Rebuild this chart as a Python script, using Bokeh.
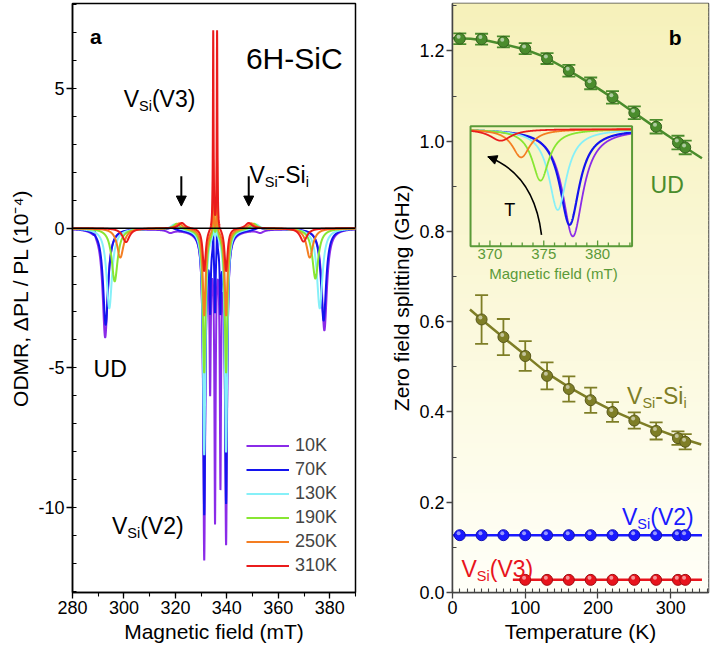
import numpy as np
from bokeh.plotting import figure
from bokeh.layouts import row
from bokeh.models import (Range1d, FixedTicker, PrintfTickFormatter, Span, Arrow, NormalHead,
                          Legend, LegendItem, Whisker, ColumnDataSource, TeeHead)
from bokeh.transform import dodge
from bokeh.embed import file_html
from bokeh.resources import INLINE
from bokeh.core.properties import value

FONT = "Liberation Sans"

# ---------------- Panel a: ODMR spectra (line parameters) ----------------
temps = ["10K", "70K", "130K", "190K", "250K", "310K"]
spec_colors = ["#8a2be8", "#1414ee", "#86f0f8", "#88e632", "#f47e22", "#ea1c1c"]

ud_low_pos = [292.7, 292.9, 294.3, 296.4, 298.6, 300.8]
ud_low_amp = [-3.9, -3.45, -2.86, -1.9, -1.05, -0.5]
ud_high_pos = [377.9, 377.6, 376.1, 374.4, 372.2, 369.8]
ud_high_amp = [-3.65, -3.3, -2.86, -1.8, -1.05, -0.48]
ud_hwhm = [1.2, 1.2, 1.3, 1.4, 1.5, 1.6]

v2_low_pos = 331.2
v2_high_pos = 339.7
v2_low_amp = [-11.5, -10.0, -8.0, -5.1, -3.1, -1.55]
v2_high_amp = [-10.9, -9.6, -7.9, -5.1, -3.1, -1.55]
v2_hwhm = [0.45, 0.5, 0.55, 0.6, 0.65, 0.7]

v3_pos = [334.7, 336.2]
v3_amp = [0.0, 0.9, 1.2, 1.9, 2.6, 7.1]
v3_hwhm = 0.15

central_pos = [333.5, 335.4, 337.5]
central_amp = [[-5.0, -9.8, -8.4], [-2.3, -2.5, -2.3], [0, 0, 0], [0, 0, 0], [0, 0, 0], [0, 0, 0]]
central_hwhm = 0.28

sii_low_pos = [318.0, 318.5, 319.5, 320.5, 321.5, 322.5]
sii_high_pos = [353.0, 352.5, 351.5, 350.5, 349.5, 348.5]
sii_amp = [-0.1, 0.08, 0.18, 0.2, 0.2, 0.2]
sii_hwhm = 1.5

broad_pos = 335.4
broad_amp = [-0.3, -0.25, -0.12, -0.08, -0.03, 0.0]
broad_hwhm = 7.0

spike_pos = 288.7
spike_amp = [0.26, 0, 0, 0, 0, 0]

# annotation positions panel a
arrow_x = [322.3, 348.5]
arrow_y_start = [1.86, 1.86]
arrow_y_end = [0.79, 0.79]

# ---------------- Panel b: zero field splitting ----------------
T_ud = [10, 40, 70, 100, 130, 160, 190, 220, 250, 280, 310, 320]
zfs_ud = [1.227, 1.226, 1.220, 1.205, 1.183, 1.156, 1.128, 1.097, 1.063, 1.032, 0.997, 0.986]
err_ud = [0.012, 0.012, 0.012, 0.012, 0.012, 0.013, 0.013, 0.014, 0.014, 0.015, 0.015, 0.015]
fit_ud_T = [0, 25, 50, 75, 100, 125, 150, 175, 200, 225, 250, 275, 300, 320, 343]
fit_ud = [1.228, 1.227, 1.222, 1.213, 1.203, 1.188, 1.166, 1.142, 1.117, 1.091, 1.063, 1.035, 1.008, 0.986, 0.962]

T_sii = [40, 70, 100, 130, 160, 190, 220, 250, 280, 310, 320]
zfs_sii = [0.605, 0.566, 0.524, 0.480, 0.451, 0.426, 0.400, 0.381, 0.358, 0.342, 0.334]
err_sii = [0.054, 0.040, 0.033, 0.030, 0.028, 0.028, 0.022, 0.018, 0.019, 0.015, 0.017]
fit_sii_T = [24, 40, 70, 100, 130, 160, 190, 220, 250, 280, 310, 342]
fit_sii = [0.627, 0.605, 0.565, 0.526, 0.486, 0.455, 0.428, 0.403, 0.382, 0.362, 0.344, 0.328]

T_v2 = [10, 40, 70, 100, 130, 160, 190, 220, 250, 280, 310, 320]
zfs_v2 = [0.127, 0.127, 0.127, 0.127, 0.127, 0.127, 0.127, 0.127, 0.127, 0.127, 0.127, 0.127]
fit_v2_T = [0, 343]
fit_v2 = [0.127, 0.127]

T_v3 = [100, 130, 160, 190, 220, 250, 280, 310, 320]
zfs_v3 = [0.028, 0.028, 0.028, 0.028, 0.028, 0.028, 0.028, 0.028, 0.028]
fit_v3_T = [83, 343]
fit_v3 = [0.028, 0.028]

# inset (high-field UD line, normalised)
inset_pos = [377.7, 377.4, 376.3, 374.7, 372.9, 371.0]
inset_amp = [-1.0, -0.892, -0.753, -0.48, -0.263, -0.108]
inset_hwhm = [1.15, 1.1, 1.0, 0.95, 1.0, 1.2]
inset_xlim = (368.2, 383.2)
inset_ylim = (-1.093, 0.028)
inset_box_T = (24.8, 246.9)
inset_box_v = (0.7669, 1.0333)
inset_ticks = list(range(369, 384))
inset_major = [370, 375, 380]

C_UD = "#4a8c2c"
C_SII = "#7e7e26"
C_V2 = "#1a1aff"
C_V3 = "#e8141c"
C_INSET = "#5a9a38"

CW = {"V": .667, "S": .667, "i": .222, "(": .333, ")": .333, "2": .556, "3": .556, "-": .333}


def add_text(p, x, y, txt, color, size, bold=False, xoff=0, yoff=0, align="left",
             baseline="alphabetic", **kw):
    p.text(x=[x], y=[y], text=[txt], text_font=value(FONT), text_font_size=f"{size}px",
           text_color=color, text_align=align, text_baseline=baseline,
           text_font_style="bold" if bold else "normal", x_offset=xoff, y_offset=yoff, **kw)


def vlabel(p, x, y, parts, color, fs=23, sfs=14.5, drop=7):
    off = 0.0
    for txt, sub in parts:
        size = sfs if sub else fs
        add_text(p, x, y, txt, color, size, xoff=off, yoff=drop if sub else 0)
        off += sum(CW[c] for c in txt) * size


def style(p, axcol, ylab, xlab):
    p.xgrid.visible = False
    p.ygrid.visible = False
    p.outline_line_color = axcol
    p.outline_line_width = 1.5
    for ax in (p.xaxis[0], p.yaxis[0]):
        ax.axis_line_color = axcol
        ax.axis_line_width = 1.5
        ax.major_tick_line_color = axcol
        ax.minor_tick_line_color = axcol
        ax.major_tick_line_width = 1.3
        ax.minor_tick_line_width = 1.1
        ax.major_tick_out = 6
        ax.major_tick_in = 0
        ax.major_label_text_font = FONT
        ax.major_label_text_font_size = "18px"
        ax.major_label_text_color = "black"
        ax.major_label_standoff = 2
        ax.axis_label_text_font = FONT
        ax.axis_label_text_font_size = "21px"
        ax.axis_label_text_font_style = "normal"
        ax.axis_label_text_color = "black"
        ax.axis_label_standoff = 3
    p.xaxis[0].axis_label = xlab
    p.yaxis[0].axis_label = ylab


H = 645

# ====================== Panel a ======================
pa = figure(width=380, height=H, x_range=Range1d(280, 390), y_range=Range1d(-13.04, 8.04),
            output_backend="svg", toolbar_location=None, min_border_left=72,
            min_border_right=25, min_border_top=3, min_border_bottom=0)
style(pa, "black", "ODMR, \u0394PL / PL (10\u207b\u2074)", "Magnetic field (mT)")
pa.xaxis[0].ticker = FixedTicker(ticks=[280, 300, 320, 340, 360, 380], minor_ticks=list(range(280, 391, 10)))
pa.xaxis[0].minor_tick_out = 4
pa.xaxis[0].minor_tick_in = 0
pa.yaxis[0].ticker = FixedTicker(ticks=[-10, -5, 0, 5], minor_ticks=list(range(-13, 9)))
pa.yaxis[0].major_label_overrides = {-10: "-10", -5: "-5", 0: "0", 5: "5"}
pa.yaxis[0].minor_tick_in = 4
pa.yaxis[0].minor_tick_out = 0

field = np.linspace(280.0, 390.0, 5501)


def lorentz(x, center, amp, hwhm):
    return amp / (1.0 + ((x - center) / hwhm) ** 2)


items = []
for i, t in enumerate(temps):
    s = (lorentz(field, ud_low_pos[i], ud_low_amp[i], ud_hwhm[i])
         + lorentz(field, ud_high_pos[i], ud_high_amp[i], ud_hwhm[i])
         + lorentz(field, v2_low_pos, v2_low_amp[i], v2_hwhm[i])
         + lorentz(field, v2_high_pos, v2_high_amp[i], v2_hwhm[i])
         + lorentz(field, broad_pos, broad_amp[i], broad_hwhm)
         + lorentz(field, sii_low_pos[i], sii_amp[i], sii_hwhm)
         + lorentz(field, sii_high_pos[i], sii_amp[i], sii_hwhm)
         + lorentz(field, spike_pos, spike_amp[i], 0.15))
    for c in v3_pos:
        s = s + lorentz(field, c, v3_amp[i], v3_hwhm)
    for c, a in zip(central_pos, central_amp[i]):
        s = s + lorentz(field, c, a, central_hwhm)
    r = pa.line(field, s, line_color=spec_colors[i], line_width=2)
    items.append(LegendItem(label=t, renderers=[r]))

pa.add_layout(Span(location=0, dimension="width", line_color="black", line_width=1.5))

leg = Legend(items=items, location=(174, 16), glyph_width=43, glyph_height=21, label_height=21,
             spacing=3, padding=0, margin=0, label_standoff=6, border_line_color=None,
             background_fill_alpha=0, label_text_font=FONT, label_text_font_size="18px")
pa.add_layout(leg)

for xa, y0, y1 in zip(arrow_x, arrow_y_start, arrow_y_end):
    pa.add_layout(Arrow(end=NormalHead(size=10, fill_color="black", line_color="black"),
                        x_start=xa, y_start=y0, x_end=xa, y_end=y1, line_width=2, line_color="black"))

add_text(pa, 286.8, 6.85, "a", "black", 21, bold=True)
add_text(pa, 347.4, 6.07, "6H-SiC", "black", 30)
vlabel(pa, 299.9, 4.64, [("V", 0), ("Si", 1), ("(V3)", 0)], "black")
vlabel(pa, 348.75, 1.90, [("V", 0), ("Si", 1), ("-Si", 0), ("i", 1)], "black")
add_text(pa, 288.2, -5.03, "UD", "black", 23)
vlabel(pa, 295.35, -10.65, [("V", 0), ("Si", 1), ("(V2)", 0)], "black")

# ====================== Panel b ======================
XB = (0, 352)
YB = (0, 1.305)
pb = figure(width=330, height=H, x_range=Range1d(*XB), y_range=Range1d(*YB),
            output_backend="svg", toolbar_location=None, min_border_left=72,
            min_border_right=2, min_border_top=3, min_border_bottom=0)
style(pb, "#444444", "Zero field splitting (GHz)", "Temperature (K)")
pb.xaxis[0].ticker = FixedTicker(ticks=[0, 100, 200, 300], minor_ticks=list(range(0, 351, 10)))
pb.yaxis[0].ticker = FixedTicker(ticks=[0, 0.2, 0.4, 0.6, 0.8, 1.0, 1.2],
                                 minor_ticks=[0.1, 0.3, 0.5, 0.7, 0.9, 1.1, 1.3])
pb.yaxis[0].formatter = PrintfTickFormatter(format="%.1f")
for ax in (pb.xaxis[0], pb.yaxis[0]):
    ax.minor_tick_in = 4
    ax.minor_tick_out = 0

# background gradient
nb = 130
edges = np.linspace(YB[0], YB[1], nb + 1)
top_rgb = np.array([246, 241, 186])
bot_rgb = np.array([255, 255, 248])
bg_cols = []
for k in range(nb):
    f = 0.5 * (edges[k] + edges[k + 1]) / YB[1]
    c = bot_rgb + (top_rgb - bot_rgb) * f
    bg_cols.append("#%02x%02x%02x" % tuple(int(round(v)) for v in c))
pb.quad(left=XB[0], right=XB[1], bottom=edges[:-1], top=edges[1:] + 0.002, fill_color=bg_cols,
        line_color=None, level="image")

# fit lines
pb.line(fit_ud_T, fit_ud, line_color=C_UD, line_width=2.5)
pb.line(fit_sii_T, fit_sii, line_color=C_SII, line_width=2.5)
pb.line(fit_v2_T, fit_v2, line_color=C_V2, line_width=2.5)
pb.line(fit_v3_T, fit_v3, line_color=C_V3, line_width=2.5)

for Ts, vs, es, col in ((T_ud, zfs_ud, err_ud, C_UD), (T_sii, zfs_sii, err_sii, C_SII)):
    src = ColumnDataSource(dict(x=Ts, upper=[v + e for v, e in zip(vs, es)],
                                lower=[v - e for v, e in zip(vs, es)]))
    pb.add_layout(Whisker(source=src, base="x", upper="upper", lower="lower", dimension="height",
                          line_color=col, line_width=1.8,
                          upper_head=TeeHead(size=13, line_color=col, line_width=1.8),
                          lower_head=TeeHead(size=13, line_color=col, line_width=1.8)))


def dark(hexc, f=0.7):
    r, g, b = int(hexc[1:3], 16), int(hexc[3:5], 16), int(hexc[5:7], 16)
    return "#%02x%02x%02x" % (int(r * f), int(g * f), int(b * f))


for Ts, vs, col in ((T_ud, zfs_ud, C_UD), (T_sii, zfs_sii, C_SII), (T_v2, zfs_v2, C_V2), (T_v3, zfs_v3, C_V3)):
    src = ColumnDataSource(dict(x=Ts, y=vs))
    pb.scatter("x", "y", source=src, size=11, fill_color=col, line_color=dark(col), line_width=1)
    pb.scatter(dodge("x", -1.6, range=pb.x_range), dodge("y", 0.0045, range=pb.y_range), source=src,
               size=4, fill_color="white", fill_alpha=0.55, line_color=None)

add_text(pb, 297.5, 1.229, "b", "black", 21, bold=True)
add_text(pb, 272.3, 0.903, "UD", C_UD, 23)
vlabel(pb, 240.0, 0.435, [("V", 0), ("Si", 1), ("-Si", 0), ("i", 1)], C_SII)
vlabel(pb, 233.1, 0.168, [("V", 0), ("Si", 1), ("(V2)", 0)], C_V2)
vlabel(pb, 12.4, 0.051, [("V", 0), ("Si", 1), ("(V3)", 0)], C_V3)

# ---- inset drawn on extra ranges mapped to the inset box ----
sx = (inset_xlim[1] - inset_xlim[0]) / (inset_box_T[1] - inset_box_T[0])
sy = (inset_ylim[1] - inset_ylim[0]) / (inset_box_v[1] - inset_box_v[0])
pb.extra_x_ranges = {"ix": Range1d(inset_xlim[0] - (inset_box_T[0] - XB[0]) * sx,
                                   inset_xlim[0] + (XB[1] - inset_box_T[0]) * sx)}
pb.extra_y_ranges = {"iy": Range1d(inset_ylim[0] - (inset_box_v[0] - YB[0]) * sy,
                                   inset_ylim[0] + (YB[1] - inset_box_v[0]) * sy)}
IR = dict(x_range_name="ix", y_range_name="iy")

ifield = np.linspace(inset_xlim[0], inset_xlim[1], 800)
for i in range(len(temps)):
    pb.line(ifield, lorentz(ifield, inset_pos[i], inset_amp[i], inset_hwhm[i]),
            line_color=spec_colors[i], line_width=2.2 if i == 1 else 1.8, **IR)

pb.quad(left=[inset_xlim[0]], right=[inset_xlim[1]], bottom=[inset_ylim[0]], top=[inset_ylim[1]],
        fill_alpha=0, line_color=C_INSET, line_width=2, **IR)
tick_len = [0.055 if t in inset_major else 0.035 for t in inset_ticks]
pb.segment(x0=inset_ticks, y0=[inset_ylim[0]] * len(inset_ticks), x1=inset_ticks,
           y1=[inset_ylim[0] + L for L in tick_len], line_color=C_INSET, line_width=1.3, **IR)
pb.text(x=inset_major, y=[inset_ylim[0]] * 3, text=[str(t) for t in inset_major],
        text_font=value(FONT), text_font_size="15px", text_color=C_INSET, text_align="center",
        text_baseline="top", y_offset=3, **IR)
add_text(pb, 375.9, inset_ylim[0], "Magnetic field (mT)", C_INSET, 15, align="center",
         baseline="top", yoff=19, **IR)
add_text(pb, 371.84, -0.753, "T", "black", 18, align="center", **IR)

# curved arrow showing temperature direction
a_start = (374.79, -0.985)
a_ctrl = (374.11, -0.421)
a_end = (369.81, -0.257)
pb.quadratic(x0=[a_start[0]], y0=[a_start[1]], x1=[a_end[0]], y1=[a_end[1]], cx=[a_ctrl[0]],
             cy=[a_ctrl[1]], line_color="black", line_width=1.6, **IR)
hx = a_end[0] + 0.12 * (a_ctrl[0] - a_end[0])
hy = a_end[1] + 0.12 * (a_ctrl[1] - a_end[1])
pb.add_layout(Arrow(end=NormalHead(size=9, fill_color="black", line_color="black"),
                    x_start=hx, y_start=hy, x_end=a_end[0], y_end=a_end[1], line_width=1.6,
                    line_color="black", **IR))

layout = row(pa, pb)
open("out.html", "w").write(file_html(layout, INLINE))
